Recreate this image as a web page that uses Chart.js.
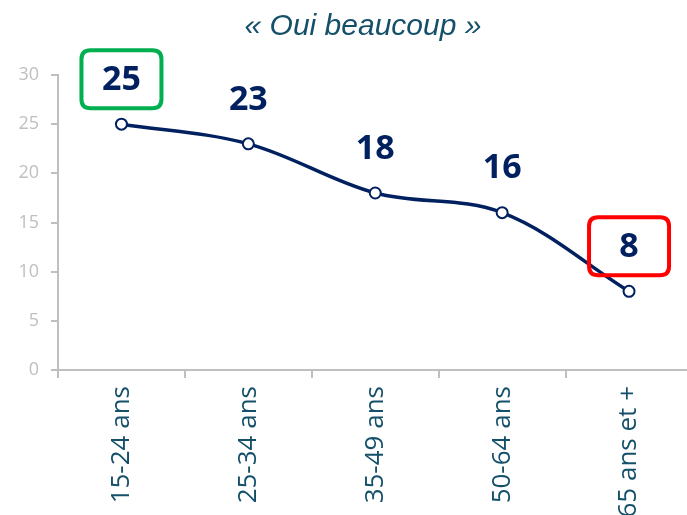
<!DOCTYPE html>
<html lang="fr">
<head>
<meta charset="utf-8">
<title>Oui beaucoup</title>
<script src="https://cdn.jsdelivr.net/npm/chart.js@4"></script>
<style>
  html, body { margin: 0; padding: 0; background: #fff; overflow: hidden; }
  #wrap { width: 700px; height: 515px; position: relative; }
</style>
</head>
<body>
<div id="wrap"><canvas id="myChart"></canvas></div>
<script>
const titleText = "« Oui beaucoup »";
const ageGroups = ["15-24 ans", "25-34 ans", "35-49 ans", "50-64 ans", "65 ans et +"];
const ouiBeaucoup = [25, 23, 18, 16, 8];
const yTicks = [0, 5, 10, 15, 20, 25, 30];
// boxed labels: index -> border colour
const highlights = { 0: "#00B050", 4: "#FF0000" };

const navy = "#002060";
const axisGrey = "#BFBFBF";
const labelTeal = "#15506A";

function roundRect(ctx, x, y, w, h, r) {
    ctx.beginPath();
    ctx.moveTo(x + r, y);
    ctx.lineTo(x + w - r, y);
    ctx.quadraticCurveTo(x + w, y, x + w, y + r);
    ctx.lineTo(x + w, y + h - r);
    ctx.quadraticCurveTo(x + w, y + h, x + w - r, y + h);
    ctx.lineTo(x + r, y + h);
    ctx.quadraticCurveTo(x, y + h, x, y + h - r);
    ctx.lineTo(x, y + r);
    ctx.quadraticCurveTo(x, y, x + r, y);
    ctx.closePath();
}

// title over the plot
const titlePlugin = {
    id: "topTitle",
    afterDraw(chart) {
        const ctx = chart.ctx;
        ctx.save();
        ctx.font = "italic 30px 'Liberation Sans', Arial, sans-serif";
        ctx.fillStyle = labelTeal;
        ctx.textAlign = "center";
        ctx.textBaseline = "middle";
        ctx.fillText(titleText, 363, 27);
        ctx.restore();
    }
};

// value labels above each point, some of them boxed
const valueLabels = {
    id: "valueLabels",
    afterDatasetsDraw(chart) {
        const ctx = chart.ctx;
        const meta = chart.getDatasetMeta(0);
        ctx.save();
        ctx.font = "bold 34px 'Open Sans', sans-serif";
        ctx.fillStyle = navy;
        ctx.textAlign = "center";
        ctx.textBaseline = "middle";
        meta.data.forEach((pt, i) => {
            const x = pt.x;
            const y = pt.y - 45;
            ctx.fillText(String(ouiBeaucoup[i]), x, y + 1);
            if (highlights[i]) {
                ctx.lineWidth = 4;
                ctx.strokeStyle = highlights[i];
                roundRect(ctx, x - 40, y - 29, 80, 58, 9);
                ctx.stroke();
            }
        });
        ctx.restore();
    }
};

const ctx = document.getElementById("myChart").getContext("2d");
const myChart = new Chart(ctx, {
    type: "line",
    data: {
        labels: ageGroups,
        datasets: [{
            data: ouiBeaucoup,
            borderColor: navy,
            borderWidth: 3.5,
            tension: 0.35,
            pointRadius: 5.5,
            pointBackgroundColor: "#ffffff",
            pointBorderColor: navy,
            pointBorderWidth: 2,
            clip: false
        }]
    },
    options: {
        responsive: true,
        maintainAspectRatio: false,
        animation: false,
        layout: { padding: { top: 75, right: 5, left: 0, bottom: 0 } },
        plugins: {
            legend: { display: false },
            tooltip: { enabled: false }
        },
        scales: {
            x: {
                offset: true,
                grid: {
                    offset: true,
                    drawOnChartArea: false,
                    tickLength: 8,
                    color: axisGrey,
                    lineWidth: 2
                },
                border: { color: axisGrey, width: 2 },
                ticks: {
                    minRotation: 90,
                    maxRotation: 90,
                    padding: 8,
                    color: labelTeal,
                    font: { family: "'Open Sans', sans-serif", size: 26 }
                },
                afterFit(scale) {
                    scale.height = 145;
                    scale.paddingLeft = 0;
                    scale.paddingRight = 0;
                }
            },
            y: {
                min: 0,
                max: 30,
                grid: {
                    drawOnChartArea: false,
                    tickLength: 7,
                    color: axisGrey,
                    lineWidth: 2
                },
                border: { color: axisGrey, width: 2 },
                afterBuildTicks(scale) {
                    scale.ticks = yTicks.map(v => ({ value: v }));
                },
                ticks: {
                    padding: 12,
                    color: axisGrey,
                    font: { family: "'Open Sans', sans-serif", size: 18 }
                },
                afterFit(scale) { scale.width = 58; }
            }
        }
    },
    plugins: [titlePlugin, valueLabels]
});
</script>
</body>
</html>
